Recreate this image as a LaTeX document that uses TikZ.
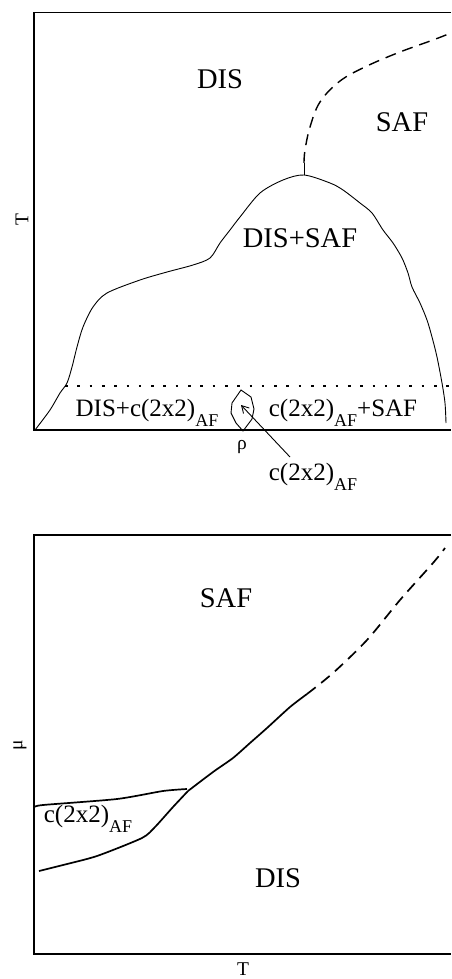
\documentclass[tikz,border=0pt]{standalone}
\usepackage{fontspec}
\setmainfont{Liberation Serif}
\usetikzlibrary{arrows.meta}
\newcommand{\bigf}{\fontsize{28.5}{30}\selectfont}
\newcommand{\midf}{\fontsize{25}{27}\selectfont}
\newcommand{\smf}{\fontsize{18}{20}\selectfont}
\newcommand{\axf}{\fontsize{19.5}{20}\selectfont}
\newcommand{\sAF}{\raisebox{-10pt}{\smf AF}}
\tikzset{
  frame/.style={line width=1.4pt},
  thin curve/.style={line width=0.9pt},
  thick curve/.style={line width=1.7pt},
  dashcurve/.style={line width=1.4pt, dash pattern=on 11pt off 7pt},
  big/.style={inner sep=0pt, font=\bigf},
  mid/.style={inner sep=0pt, font=\midf},
  small/.style={inner sep=0pt, font=\axf},
}
\begin{document}
\begin{tikzpicture}[x=1pt,y=-1pt]
\useasboundingbox (0,0) rectangle (451,979);
% ---------- top panel ----------
\draw[frame] (451,12.5) -- (34,12.5) -- (34,430) -- (451,430);
\node[big] (dis1) at (220,79) {DIS};
\node[big] (saf1) at (402,122) {SAF};
\node[big] (dissaf) at (300,238) {DIS+SAF};
\node[small, rotate=90] (Tax1) at (22,220) {T};
\node[small] (rho) at (242,447) {ρ};
\node[mid, anchor=base] (l1) at (147,416) {DIS+c(2x2)\sAF};
\node[mid, anchor=base] (l2) at (343,416) {c(2x2)\sAF+SAF};
\node[mid, anchor=base] (l3) at (313,480) {c(2x2)\sAF};
% dome
\draw[thin curve] plot[smooth, tension=0.5] coordinates {
 (35,430) (50,410) (60,393) (67,383) (72,367) (77,347) (83,327) (93,307)
 (107,293) (140,280) (167,272) (193,265) (210,258) (220,243) (230,230)
 (240,217) (260,193) (283,180) (304,175) (330,183) (343,190) (360,203)
 (372,213) (383,230) (393,243) (402,258) (408,273) (412,287) (420,303)
 (427,320) (432,337) (437,357) (442,383) (445,403) (446,423)};
% tick and dashed line
\coordinate (top) at (304,175);
\draw[thin curve] (top) -- (304,163);
\draw[dashcurve] plot[smooth, tension=0.6] coordinates {
 (304,163) (305,150) (310,127) (320,102) (340,81) (367,66) (400,52)
 (433,40) (451,33)};
% dotted line
\draw[line width=2.6pt, dash pattern=on 2.6pt off 9.7pt] (65,386) -- (449,386);
% hexagon
\draw[thin curve] (241,390) -- (251,397) -- (254,409) -- (252,419) -- (243,431)
 -- (236,423) -- (231,413) -- (232,403) -- cycle;
\coordinate (tip) at (241,405);
\coordinate (tail) at (290,457);
\draw[thin curve, -{Straight Barb[length=7pt,width=8pt]}] (tail) -- (tip);
% ---------- bottom panel ----------
\draw[frame] (451,535) -- (34,535) -- (34,954) -- (451,954);
\node[big] (saf2) at (226,598) {SAF};
\node[big] (dis2) at (278,878) {DIS};
\node[small, rotate=90] (mu) at (20,745) {μ};
\node[small, anchor=base] (Tax2) at (243,975) {T};
\node[mid, anchor=base] (l4) at (88,822) {c(2x2)\sAF};
\draw[thick curve] plot[smooth, tension=0.4] coordinates {
 (35,807) (43,805) (117,799) (163,791) (187,789)};
\draw[thick curve] plot[smooth, tension=0.4] coordinates {
 (39,871) (63,865) (97,856) (142,838) (155,827) (173,807) (188,791)};
\draw[thick curve] plot[smooth, tension=0.4] coordinates {
 (188,791) (213,772) (233,758) (250,743) (267,728) (290,707) (307,694)};
\draw[dashcurve, line width=1.7pt] plot[smooth, tension=0.5] coordinates {
 (307,694) (333,673) (367,640) (400,600) (433,563) (445,548)};
\end{tikzpicture}
\end{document}
